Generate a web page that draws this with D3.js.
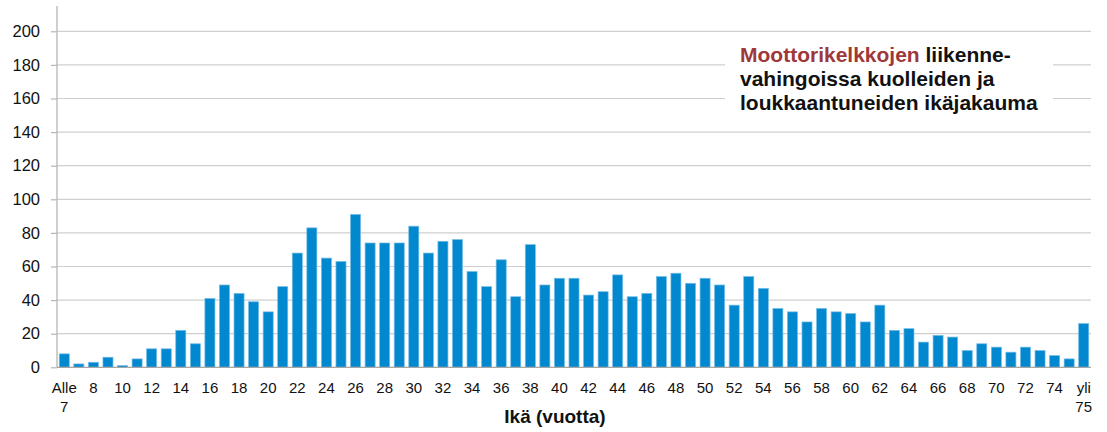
<!DOCTYPE html>
<html>
<head>
<meta charset="utf-8">
<script src="https://cdn.jsdelivr.net/npm/d3@7/dist/d3.min.js"></script>
<style>
  html, body { margin: 0; padding: 0; background: #fff; }
  svg { display: block; font-family: "Liberation Sans", Arial, sans-serif; }
</style>
</head>
<body>
<svg id="chart" width="1107" height="432"></svg>
<script>
// Categories: "Alle 7", 7..75, "yli 75"
const categories = ["Alle 7"].concat(d3.range(7, 76).map(String)).concat(["yli 75"]);
const values = [
  8, 2, 3, 6, 1, 5, 11, 11, 22, 14,
  41, 49, 44, 39, 33, 48, 68, 83, 65, 63,
  91, 74, 74, 74, 84, 68, 75, 76, 57, 48,
  64, 42, 73, 49, 53, 53, 43, 45, 55, 42,
  44, 54, 56, 50, 53, 49, 37, 54, 47, 35,
  33, 27, 35, 33, 32, 27, 37, 22, 23, 15,
  19, 18, 10, 14, 12, 9, 12, 10, 7, 5,
  26
];
const yTicks = [0, 20, 40, 60, 80, 100, 120, 140, 160, 180, 200];
const axisTitle = "Ikä (vuotta)";
const titleRed = "Moottorikelkkojen";
const titleLines = ["liikenne-", "vahingoissa kuolleiden ja", "loukkaantuneiden ikäjakauma"];

const svg = d3.select("#chart");
const left = 57, right = 1091, zeroY = 367.3, topY = 31.3;

const x = d3.scaleBand().domain(categories).range([left, right]).paddingInner(0.31).paddingOuter(0.155);
const y = d3.scaleLinear().domain([0, 200]).range([zeroY, topY]);

// gridlines
svg.append("g").selectAll("line").data(yTicks.filter(d => d > 0)).join("line")
  .attr("x1", left).attr("x2", right)
  .attr("y1", d => y(d)).attr("y2", d => y(d))
  .attr("stroke", "#cfcfcf").attr("stroke-width", 1.2);

// bars
svg.append("g").selectAll("rect").data(values).join("rect")
  .attr("x", (d, i) => x(categories[i]))
  .attr("width", x.bandwidth())
  .attr("y", d => y(d))
  .attr("height", d => zeroY - y(d))
  .attr("fill", "#0288cf")
  .attr("stroke", "#74bde6")
  .attr("stroke-width", 0.7);

// y axis
const yAxis = d3.axisLeft(y).tickValues(yTicks).tickSize(6).tickPadding(11);
const gy = svg.append("g").attr("transform", `translate(${left},0)`).call(yAxis);
gy.select(".domain").remove();
gy.selectAll(".tick line").attr("stroke", "#b5b5b5").attr("stroke-width", 1.2);
gy.selectAll(".tick text").attr("font-size", "16.5px").attr("fill", "#111")
  .attr("font-family", "Liberation Sans, Arial, sans-serif");
svg.append("line").attr("x1", left).attr("x2", left).attr("y1", 6).attr("y2", zeroY)
  .attr("stroke", "#b5b5b5").attr("stroke-width", 1.3);

// x axis
const labelled = categories.filter((c, i) => i % 2 === 0);
const xAxis = d3.axisBottom(x).tickValues(labelled).tickSize(0).tickPadding(15);
const gx = svg.append("g").attr("transform", `translate(0,${zeroY})`).call(xAxis);
gx.select(".domain").remove();
gx.selectAll(".tick text").attr("font-size", "15px").attr("fill", "#111")
  .attr("font-family", "Liberation Sans, Arial, sans-serif")
  .each(function(d) {
    const parts = d.split(" ");
    if (parts.length > 1) {
      const t = d3.select(this);
      t.text(null);
      parts.forEach((p, k) => {
        t.append("tspan").attr("x", 0).attr("dy", k === 0 ? "0.71em" : "1.3em").text(p);
      });
      t.attr("dy", null);
    }
  });
svg.append("line").attr("x1", left).attr("x2", right).attr("y1", zeroY).attr("y2", zeroY)
  .attr("stroke", "#a6a6a6").attr("stroke-width", 1.3);

// axis title
svg.append("text").attr("x", 555).attr("y", 423).attr("text-anchor", "middle")
  .attr("font-size", "19px").attr("font-weight", "bold").attr("fill", "#111").text(axisTitle);

// title box
svg.append("rect").attr("x", 725).attr("y", 38).attr("width", 328).attr("height", 82).attr("fill", "#fff");
const tt = svg.append("text").attr("x", 740).attr("font-size", "21px").attr("font-weight", "bold").attr("fill", "#111");
const l1 = tt.append("tspan").attr("x", 740).attr("y", 61.5);
l1.append("tspan").attr("fill", "#a0373a").text(titleRed);
l1.append("tspan").text(" " + titleLines[0]);
tt.append("tspan").attr("x", 740).attr("y", 85.5).text(titleLines[1]);
tt.append("tspan").attr("x", 740).attr("y", 109.5).text(titleLines[2]);
</script>
</body>
</html>
